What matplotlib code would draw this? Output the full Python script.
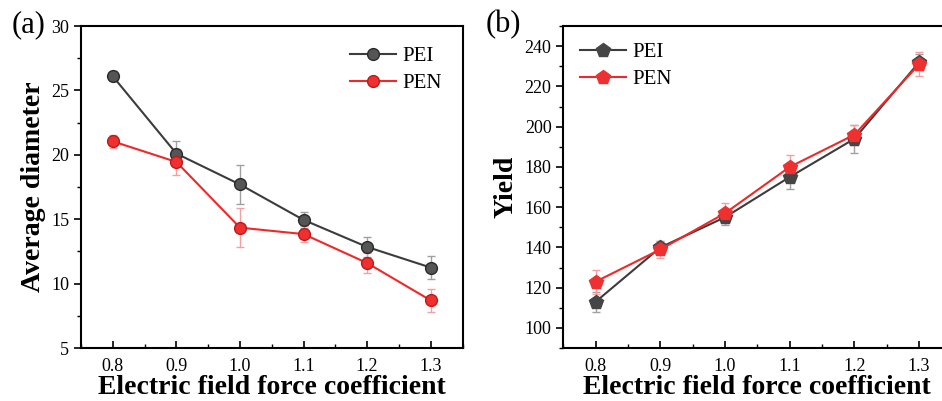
import matplotlib
matplotlib.use('Agg')
from matplotlib import pyplot as plt
from matplotlib.ticker import MultipleLocator, AutoMinorLocator

plt.rcParams['font.family'] = ['Liberation Serif', 'DejaVu Serif']

coef = [0.8, 0.9, 1.0, 1.1, 1.2, 1.3]

# (a) average diameter
dia_pei = [26.1, 20.1, 17.7, 14.95, 12.85, 11.25]
dia_pei_err = [0.4, 1.0, 1.5, 0.6, 0.8, 0.9]
dia_pen = [21.05, 19.45, 14.35, 13.85, 11.6, 8.7]
dia_pen_err = [0.5, 1.0, 1.5, 0.6, 0.8, 0.9]

# (b) yield
yld_pei = [113, 140, 155, 175, 194, 232]
yld_pei_err = [5, 3, 4, 6, 7, 4]
yld_pen = [123, 139, 157, 180, 196, 231]
yld_pen_err = [6, 4, 5, 6, 5, 6]

black = '#3c3c3c'
red = '#f02828'

fig = plt.figure(figsize=(9.42, 4.01), dpi=100)
ax1 = fig.add_axes([0.086, 0.132, 0.405, 0.803])
ax2 = fig.add_axes([0.598, 0.132, 0.412, 0.803])


def style(ax, ylabel):
  ax.set_xlim(0.75, 1.35)
  ax.xaxis.set_major_locator(MultipleLocator(0.1))
  ax.xaxis.set_minor_locator(AutoMinorLocator(2))
  ax.yaxis.set_minor_locator(AutoMinorLocator(2))
  ax.tick_params(axis='x', which='both', direction='in', labelsize=13, pad=7)
  ax.tick_params(axis='y', which='both', direction='out', labelsize=13)
  ax.tick_params(which='major', length=5, width=1.2)
  ax.tick_params(which='minor', length=3, width=1.0)
  ax.tick_params(top=False, right=False)
  for s in ax.spines.values():
    s.set_linewidth(1.5)
  ax.set_xticklabels([f'{v:.1f}' for v in ax.get_xticks()])
  ax.set_xlabel('Electric field force coefficient', fontsize=20, fontweight='bold', labelpad=0)
  ax.set_ylabel(ylabel, fontsize=20, fontweight='bold', labelpad=4)


ax1.errorbar(coef, dia_pei, yerr=dia_pei_err, color=black, marker='o', ms=8.5, lw=1.5,
             mfc='#555555', mec='#2a2a2a', ecolor='#a0a0a0', elinewidth=1, capsize=3, label='PEI')
ax1.errorbar(coef, dia_pen, yerr=dia_pen_err, color=red, marker='o', ms=8.5, lw=1.5,
             mfc='#ee3030', mec='#c01818', ecolor='#f4a0a0', elinewidth=1, capsize=3, label='PEN')
ax1.set_ylim(5, 30)
ax1.yaxis.set_major_locator(MultipleLocator(5))
style(ax1, 'Average diameter')
h, l = ax1.get_legend_handles_labels()
ax1.legend([x[0] for x in h], l, loc='upper right', frameon=False, fontsize=15,
           handlelength=2.2, handletextpad=0.3, borderaxespad=0.6, labelspacing=0.35)

ax2.errorbar(coef, yld_pei, yerr=yld_pei_err, color=black, marker='p', ms=10, lw=1.5,
             mfc='#454545', mec='#454545', ecolor='#a0a0a0', elinewidth=1, capsize=3, label='PEI')
ax2.errorbar(coef, yld_pen, yerr=yld_pen_err, color=red, marker='p', ms=10, lw=1.5,
             mfc='#ee3030', mec='#ee3030', ecolor='#f4a0a0', elinewidth=1, capsize=3, label='PEN')
ax2.set_ylim(90, 250)
ax2.yaxis.set_major_locator(MultipleLocator(20))
style(ax2, 'Yield')
h, l = ax2.get_legend_handles_labels()
ax2.legend([x[0] for x in h], l, loc='upper left', frameon=False, fontsize=15,
           handlelength=2.2, handletextpad=0.3, borderaxespad=0.4, labelspacing=0.35)

fig.text(0.012, 0.975, '(a)', fontsize=22, va='top', ha='left')
fig.text(0.515, 0.975, '(b)', fontsize=22, va='top', ha='left')

fig.savefig('out.png', dpi=100)
